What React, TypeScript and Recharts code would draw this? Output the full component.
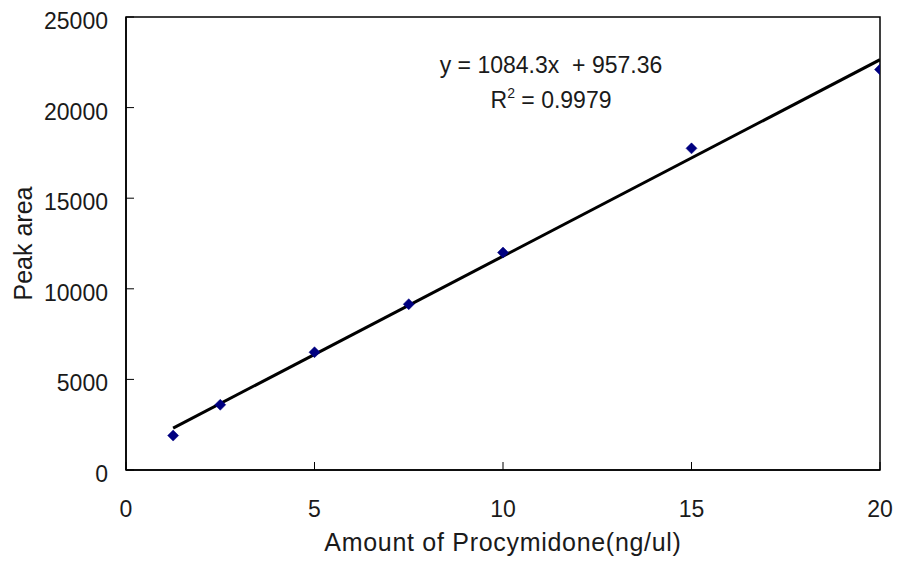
import React from 'react';
import { ComposedChart, Scatter, Line, XAxis, YAxis, ReferenceArea } from 'recharts';

const amounts = [1.25, 2.5, 5, 7.5, 10, 15, 20];
const peakAreas = [1900, 3600, 6500, 9150, 12000, 17750, 22100];
const xTicks = [0, 5, 10, 15, 20];
const yTicks = [0, 5000, 10000, 15000, 20000, 25000];
const SLOPE = 1084.3;
const INTERCEPT = 957.36;
const R2 = 0.9979;
const xTitle = 'Amount of Procymidone(ng/ul)';
const yTitle = 'Peak area';

const points = amounts.map((x, i) => ({ x, y: peakAreas[i] }));
const trend = [amounts[0], amounts[amounts.length - 1]].map((x) => ({ x, y: SLOPE * x + INTERCEPT }));

const FONT = '"Liberation Sans", Arial, sans-serif';
const TEXT = '#1a1a1a';

const XTick = (props: any) => {
  const { x, y, payload } = props;
  return (
    <g>
      <line x1={x} x2={x} y1={y} y2={y - 8} stroke="#000" strokeWidth={1} />
      <text x={x} y={y + 47} textAnchor="middle" fontSize={23} fill={TEXT} fontFamily={FONT}>
        {payload.value}
      </text>
    </g>
  );
};

const YTick = (props: any) => {
  const { x, y, payload } = props;
  return (
    <g>
      <line x1={x} x2={x + 8} y1={y} y2={y} stroke="#000" strokeWidth={1} />
      <text x={x - 18} y={y + 12} textAnchor="end" fontSize={23} fill={TEXT} fontFamily={FONT}>
        {payload.value}
      </text>
    </g>
  );
};

const Diamond = (props: any) => {
  const { cx, cy } = props;
  const r = 5.5;
  return (
    <polygon
      points={`${cx},${cy - r} ${cx + r},${cy} ${cx},${cy + r} ${cx - r},${cy}`}
      fill="#000080"
      stroke="#000080"
      strokeWidth={0.5}
    />
  );
};

const XLabel = (props: any) => {
  const vb = props.viewBox;
  return (
    <text x={vb.x + vb.width / 2} y={vb.y + 81} textAnchor="middle" fontSize={25} fill={TEXT} fontFamily={FONT} letterSpacing={0.7}>
      {xTitle}
    </text>
  );
};

const YLabel = (props: any) => {
  const vb = props.viewBox;
  const cx = vb.x + 32;
  const cy = vb.y + vb.height / 2;
  return (
    <text x={cx} y={cy} transform={`rotate(-90 ${cx} ${cy})`} textAnchor="middle" fontSize={25} fill={TEXT} fontFamily={FONT}>
      {yTitle}
    </text>
  );
};

export default function App() {
  return (
    <div style={{ position: 'absolute', left: 0, top: 0, width: 897, height: 563, background: '#fff' }}>
      <ComposedChart width={897} height={563} margin={{ top: 17, right: 17, bottom: 0, left: 0 }}>
        <XAxis
          type="number"
          dataKey="x"
          domain={[0, 20]}
          ticks={xTicks}
          allowDataOverflow
          height={93}
          tickSize={0}
          tickMargin={0}
          tickLine={false}
          axisLine={{ stroke: '#000', strokeWidth: 1.5 }}
          tick={<XTick />}
          label={<XLabel />}
        />
        <YAxis
          type="number"
          dataKey="y"
          domain={[0, 25000]}
          ticks={yTicks}
          allowDataOverflow
          width={126}
          tickSize={0}
          tickMargin={0}
          tickLine={false}
          axisLine={{ stroke: '#000', strokeWidth: 1.5 }}
          tick={<YTick />}
          label={<YLabel />}
        />
        <ReferenceArea x1={0} x2={20} y1={0} y2={25000} fill="none" fillOpacity={0} stroke="#000" strokeWidth={1.5} />
        <Line
          data={trend}
          dataKey="y"
          type="linear"
          stroke="#000"
          strokeWidth={3}
          dot={false}
          activeDot={false}
          isAnimationActive={false}
        />
        <Scatter data={points} dataKey="y" shape={<Diamond />} isAnimationActive={false} />
      </ComposedChart>
      <svg width={897} height={563} style={{ position: 'absolute', left: 0, top: 0, pointerEvents: 'none' }}>
        <text x={551} y={73} textAnchor="middle" fontSize={23} fill={TEXT} fontFamily={FONT} style={{ whiteSpace: 'pre' }}>
          {`y = ${SLOPE}x  + ${INTERCEPT}`}
        </text>
        <text x={551} y={108} textAnchor="middle" fontSize={23} fill={TEXT} fontFamily={FONT}>
          R<tspan fontSize={14} dy={-10}>2</tspan>
          <tspan dy={10}>{` = ${R2}`}</tspan>
        </text>
      </svg>
    </div>
  );
}
